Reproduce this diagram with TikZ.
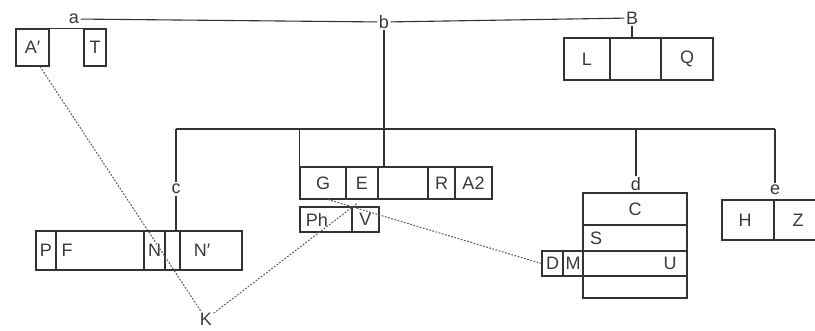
\documentclass[tikz,border=0pt]{standalone}
\usepackage{fontspec}
\setmainfont{Liberation Sans}
\definecolor{lncol}{HTML}{333333}
\definecolor{txcol}{HTML}{3A3A3A}
\begin{document}
\begin{tikzpicture}[x=1pt,y=-1pt,
  cell/.style={draw=lncol, line width=1.1pt, inner sep=0pt, text=txcol, font=\fontsize{18}{21}\selectfont},
  lbl/.style={inner sep=1.5pt, text=txcol, font=\fontsize{18}{21}\selectfont},
  wire/.style={draw=lncol, line width=1.1pt},
  dline/.style={draw=black!65, line width=1pt, dash pattern=on 1.8pt off 1.5pt}]
\useasboundingbox[fill=white] (0,0) rectangle (815,330);
% top left boxes
\node[cell,minimum width=33pt,minimum height=37pt] (A1) at (32.5,47.5) {A′};
\node[cell,minimum width=22pt,minimum height=37pt] (T) at (95,47.5) {T};
\draw[wire] (A1.north east) -- (T.north west);
% top labels and line
\node[lbl] (a) at (74,19) {a};
\node[lbl] (b) at (384,22) {b};
\node[lbl] (B) at (632,18) {B};
\draw[wire] (a) -- (b);
\draw[wire] (b) -- (B);
% B box
\node[cell,minimum width=46pt,minimum height=42pt] (L) at (587,59) {L};
\node[cell,minimum width=51pt,minimum height=42pt] (Bm) at (635.5,59) {};
\node[cell,minimum width=52pt,minimum height=42pt] (Q) at (687,59) {Q};
\draw[wire] (B.south) -- (B.south |- Bm.north);
% G row
\node[cell,minimum width=46pt,minimum height=32pt] (G) at (323,183) {G};
\node[cell,minimum width=32pt,minimum height=32pt] (E) at (362,183) {E};
\node[cell,minimum width=50pt,minimum height=32pt] (Gm) at (403,183) {};
\node[cell,minimum width=27pt,minimum height=32pt] (R) at (441.5,183) {R};
\node[cell,minimum width=37pt,minimum height=32pt] (A2) at (473.5,183) {A2};
\draw[wire] (b.south) -- (b.south |- Gm.north);
% Ph row
\node[cell,minimum width=52pt,minimum height=25pt] (Ph) at (326,219.5) {};
\node[lbl] (Pht) at (317,219.5) {Ph};
\node[cell,minimum width=27pt,minimum height=25pt] (V) at (365.5,219.5) {V};
% bus
\coordinate (busL) at (176,129);
\coordinate (busR) at (775,129);
\draw[wire] (busL) -- (busR);
% c branch
\node[lbl] (c) at (176,189) {c};
\node[cell,minimum width=20pt,minimum height=39pt] (P) at (46,250.5) {P};
\node[cell,minimum width=88pt,minimum height=39pt] (F) at (100,250.5) {};
\node[lbl] (Ft) at (67,250.5) {F};
\node[cell,minimum width=21pt,minimum height=39pt] (N) at (154.5,250.5) {N};
\node[cell,minimum width=15pt,minimum height=39pt] (Ne) at (172.5,250.5) {};
\node[cell,minimum width=62pt,minimum height=39pt] (N2) at (211,250.5) {};
\node[lbl] (N2t) at (202,250.5) {N′};
\draw[wire] (busL) -- (c.north);
\draw[wire] (c.south) -- (c.south |- Ne.north);
% G branch
\draw[wire] (G.north west |- busL) -- (G.north west);
% d branch
\node[lbl] (d) at (636,184) {d};
\node[cell,minimum width=104pt,minimum height=32pt] (C) at (635,209) {C};
\node[cell,minimum width=104pt,minimum height=26pt] (S) at (635,238) {};
\node[lbl] (St) at (596,238) {S};
\node[cell,minimum width=104pt,minimum height=25pt] (U) at (635,263.5) {};
\node[lbl] (Ut) at (670,263.5) {U};
\node[cell,minimum width=104pt,minimum height=22pt] (Dm) at (635,287) {};
\node[cell,minimum width=21pt,minimum height=25pt] (D) at (552.5,263.5) {D};
\node[cell,minimum width=20pt,minimum height=25pt] (M) at (573,263.5) {M};
\draw[wire] (d.north |- busL) -- (d.north);
% e branch
\node[lbl] (e) at (775,190) {e};
\node[cell,minimum width=52pt,minimum height=40pt] (H) at (748,220) {};
\node[lbl] (Ht) at (745,220) {H};
\node[cell,minimum width=48pt,minimum height=40pt] (Z) at (798,220) {Z};
\draw[wire] (busR) -- (e.north);
% dashed lines
\node[lbl] (K) at (206,319) {K};
\draw[dline] ([xshift=7.5pt]A1.south) -- (K);
\draw[dline] (K) -- ([xshift=-5pt,yshift=-4pt]E.south);
\draw[dline] ([xshift=5pt]G.south) -- (D.west);
\end{tikzpicture}
\end{document}
